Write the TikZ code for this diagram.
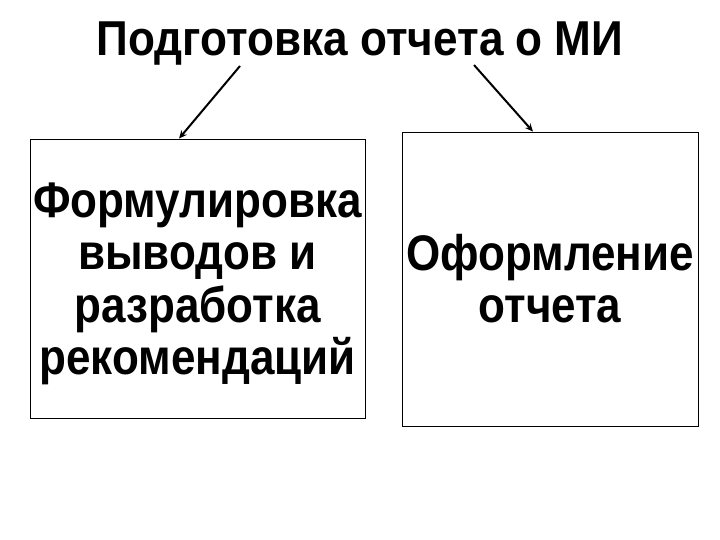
\documentclass[tikz,border=0pt]{standalone}
\usepackage{fontspec}
\setmainfont{Liberation Sans}
\usetikzlibrary{arrows.meta}
\newcommand{\narrow}[2]{\raisebox{#1}[\height][\depth]{\scalebox{0.88}[1]{\begin{tabular}{@{}c@{}}#2\end{tabular}}}}
\tikzset{
	box/.style={draw, line width=0.8pt, inner sep=0pt,
		font=\fontsize{50}{52.5}\selectfont\bfseries},
	arr/.style={line width=2pt, -{Stealth[length=8pt,width=7pt]}}
}
\begin{document}
\begin{tikzpicture}[x=1pt, y=-1pt]
	\useasboundingbox (0, 0) rectangle (720, 540);
	\node[anchor=base, font=\fontsize{49}{50}\selectfont\bfseries] (title) at (360, 56) {\scalebox{0.9}[1]{Подготовка отчета о МИ}};
	\node[box, minimum width=335pt, minimum height=279pt] (lbox) at (197.5, 278.5) {\narrow{-7pt}{Формулировка\\выводов и\\разработка\\рекомендаций}};
	\node[box, minimum width=296pt, minimum height=294pt] (rbox) at (550, 279) {\narrow{-7pt}{Оформление\\отчета}};
	\coordinate (ls) at (240, 66);
	\coordinate (rs) at (474, 65);
	\draw[arr] (ls) -- ([xshift=-18.5pt]lbox.north);
	\draw[arr] (rs) -- ([xshift=-17pt]rbox.north);
\end{tikzpicture}
\end{document}
